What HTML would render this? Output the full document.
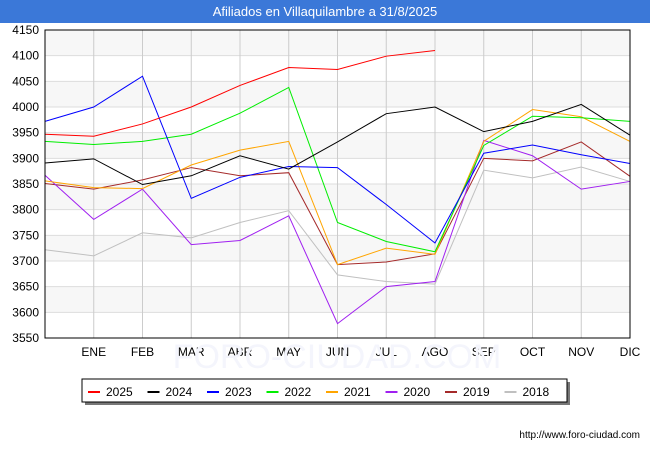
<!DOCTYPE html>
<html><head><meta charset="utf-8"><style>
body{margin:0;width:650px;height:450px;background:#fff;font-family:"Liberation Sans",sans-serif;overflow:hidden}
#title{position:absolute;left:0;top:0;width:650px;height:23px;background:#3b78d8;color:#fff;font-size:13px;line-height:23px;text-align:center}
</style></head><body>
<div id="title">Afiliados en Villaquilambre a 31/8/2025</div>
<svg id="c" width="650" height="450" style="position:absolute;left:0;top:0"></svg>
<script>
const months=["","ENE","FEB","MAR","ABR","MAY","JUN","JUL","AGO","SEP","OCT","NOV","DIC"];
const yTicks=[3550,3600,3650,3700,3750,3800,3850,3900,3950,4000,4050,4100,4150];
const years=["2025","2024","2023","2022","2021","2020","2019","2018"];
const colors=["#ff0000","#000000","#0000ff","#00ee00","#ffa500","#a020f0","#a52a2a","#c0c0c0"];
const s2025=[3947,3943,3967,4000,4042,4077,4073,4099,4110];
const s2024=[3891,3899,3849,3866,3905,3879,3932,3987,4000,3952,3972,4005,3945];
const s2023=[3972,4000,4060,3822,3863,3884,3882,3810,3735,3910,3926,3907,3890];
const s2022=[3933,3927,3933,3947,3988,4038,3775,3738,3718,3925,3982,3979,3972];
const s2021=[3856,3843,3841,3887,3916,3933,3693,3725,3713,3933,3995,3981,3933];
const s2020=[3867,3781,3840,3732,3740,3788,3578,3650,3660,3935,3905,3840,3855];
const s2019=[3851,3840,3858,3882,3866,3872,3693,3698,3714,3900,3895,3932,3865];
const s2018=[3722,3710,3755,3745,3775,3798,3673,3660,3655,3877,3862,3883,3855];
const series=[s2025,s2024,s2023,s2022,s2021,s2020,s2019,s2018];
const L=45,R=630,T=30,B=338,ymin=3550,ymax=4150;
const X=i=>L+i*(R-L)/12, Y=v=>B-(v-ymin)/(ymax-ymin)*(B-T);
const svg=document.getElementById('c');const NS="http://www.w3.org/2000/svg";
function mk(t,a,p){const e=document.createElementNS(NS,t);for(const k in a)e.setAttribute(k,a[k]);(p||svg).appendChild(e);return e;}
for(let i=0;i<yTicks.length-1;i++){if(i%2==1){const r=mk('rect',{x:L,y:Y(yTicks[i+1]),width:R-L,height:Y(yTicks[i])-Y(yTicks[i+1]),fill:'#f7f7f7'});

}}
yTicks.forEach(v=>{const l=mk('line',{x1:L,x2:R,y1:Y(v),y2:Y(v),stroke:'#ddd'});


const t=mk('text',{x:L-6,y:Y(v)+4,'text-anchor':'end','font-size':12,fill:'#000'});t.textContent=v;

});
months.forEach((m,i)=>{if(i==0)return;const l=mk('line',{x1:X(i),x2:X(i),y1:T,y2:B,stroke:'#ccc'});


const t=mk('text',{x:X(i),y:356,'text-anchor':'middle','font-size':12,fill:'#000'});t.textContent=m;

});
const wm=mk('text',{x:337,y:368,'text-anchor':'middle','font-size':34,fill:'#f4f5fc'});wm.textContent='FORO-CIUDAD.COM';


for(let k=series.length-1;k>=0;k--){const pts=series[k].map((v,i)=>X(i)+','+Y(v)).join(' ');
const p=mk('polyline',{points:pts,fill:'none',stroke:colors[k],'stroke-width':1});

}
const fr=mk('rect',{x:L,y:T,width:R-L,height:B-T,fill:'none',stroke:'#000'});


const sh=mk('rect',{x:85,y:382,width:485,height:23,fill:'#777'});


const lb=mk('rect',{x:82,y:379,width:485,height:23,fill:'#fff',stroke:'#000'});


years.forEach((y,k)=>{const x0=88+k*59.5;
const g=mk('g',{});


mk('line',{x1:x0,x2:x0+12,y1:392,y2:392,stroke:colors[k],'stroke-width':2},g);
const t=mk('text',{x:x0+18,y:396,'font-size':12,fill:'#000'},g);t.textContent=y;});
const u=mk('text',{x:640,y:438,'text-anchor':'end','font-size':10,fill:'#000'});u.textContent='http://www.foro-ciudad.com';


</script>
</body></html>
